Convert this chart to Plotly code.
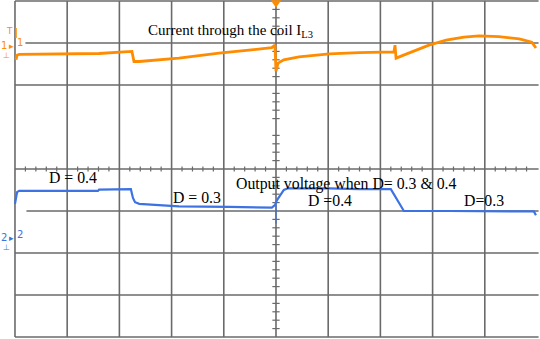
import plotly.graph_objects as go

# Oscilloscope screen: time and amplitude in divisions (center = 0)
# Channel 1: current through the coil IL3 (orange)
i_time = [-4.98, -4.96, -4.92, -4.16, -3.39, -2.91, -2.76, -2.72, -2.62, -1.86, -1.09,
          -0.52, -0.08, -0.02, 0.0, 0.04, 0.15, 0.44, 1.02, 1.59, 2.26, 2.28, 2.30,
          2.36, 2.64, 2.93, 3.26, 3.60, 3.89, 4.27, 4.66, 4.90, 4.98]
i_level = [2.60, 2.71, 2.73, 2.74, 2.75, 2.79, 2.80, 2.56, 2.56, 2.64, 2.76,
           2.83, 2.89, 2.95, 2.33, 2.52, 2.60, 2.67, 2.74, 2.77, 2.79, 2.95, 2.64,
           2.67, 2.81, 2.95, 3.07, 3.14, 3.17, 3.15, 3.10, 3.02, 2.88]

# Channel 2: output voltage (blue)
v_time = [-5.00, -4.98, -4.96, -4.92, -4.16, -3.41, -3.39, -2.78, -2.74, -2.70, -2.62,
          -2.24, -1.86, -0.90, -0.08, -0.02, 0.02, 0.15, 0.23, 1.02, 1.59, 2.20,
          2.45, 3.31, 4.27, 4.94, 4.98]
v_level = [-0.83, -0.64, -0.55, -0.52, -0.52, -0.52, -0.49, -0.48, -0.69, -0.79, -0.83,
           -0.86, -0.89, -0.90, -0.92, -0.86, -0.74, -0.50, -0.46, -0.46, -0.48, -0.48,
           -1.00, -1.00, -1.01, -1.01, -1.10]

ORANGE = "#ff8c00"
BLUE = "#3d72e3"
GRID = "#6a6a6a"
SERIF = "Liberation Serif, Times New Roman, serif"

fig = go.Figure()
fig.add_trace(go.Scatter(x=i_time, y=i_level, mode="lines",
                         line=dict(color=ORANGE, width=2.8), hoverinfo="skip"))
fig.add_trace(go.Scatter(x=v_time, y=v_level, mode="lines",
                         line=dict(color=BLUE, width=2.2), hoverinfo="skip"))

shapes = []
# vertical grid lines
for gx in range(-5, 5):
    shapes.append(dict(type="line", x0=gx, x1=gx, y0=-4, y1=4,
                       line=dict(color=GRID, width=1.6), layer="below"))
# horizontal grid lines (line at +1 div hidden on the screen)
for gy, start in [(4, -5), (3, -4.8), (2, -5), (0, -5), (-1, -4.78),
                  (-2, -5), (-3, -5), (-4, -5)]:
    shapes.append(dict(type="line", x0=start, x1=5.03, y0=gy, y1=gy,
                       line=dict(color=GRID, width=1.6), layer="below"))
# minor ticks on the center axes
for k in range(-25, 26):
    tx = k * 0.2
    if k % 5 != 0:
        shapes.append(dict(type="line", x0=tx, x1=tx, y0=-0.06, y1=0.06,
                           line=dict(color=GRID, width=1.2), layer="below"))
for k in range(-20, 21):
    ty = k * 0.2
    if k % 5 != 0:
        shapes.append(dict(type="line", x0=-0.07, x1=0.07, y0=ty, y1=ty,
                           line=dict(color=GRID, width=1.2), layer="below"))
# channel-1 marker bar
shapes.append(dict(type="line", x0=-4.98, x1=-4.98, y0=3.12, y1=3.36,
                   line=dict(color=ORANGE, width=1.5)))
# trigger position marker (top centre)
shapes.append(dict(type="path", path="M -0.1 4.02 L 0.1 4.02 L 0 3.84 Z",
                   fillcolor=ORANGE, line=dict(color=ORANGE, width=0)))
# small blue glitch at trigger point
shapes.append(dict(type="line", x0=0.0, x1=0.0, y0=-0.86, y1=-1.3,
                   line=dict(color=BLUE, width=1)))

annotations = []
def label(x, y, text, size=15.8, color="black", xanchor="left"):
    annotations.append(dict(x=x, y=y, text=text, showarrow=False, xanchor=xanchor,
                            yanchor="middle", font=dict(family=SERIF, size=size, color=color)))

label(-2.49, 3.29, "Current through the coil I<sub>L3</sub>", size=15)
label(-4.39, -0.20, "D = 0.4")
label(-2.01, -0.69, "D = 0.3")
label(-0.80, -0.36, "Output voltage when D= 0.3 &amp; 0.4")
label(0.57, -0.74, "D =0.4")
label(3.56, -0.76, "D=0.3")

SANS = "DejaVu Sans, Arial, sans-serif"
def mark(x, y, text, color, size=10):
    annotations.append(dict(x=x, y=y, text=text, showarrow=False, xanchor="center",
                            yanchor="middle", font=dict(family=SANS, size=size, color=color)))

mark(-5.10, 3.28, "T", ORANGE, 9)
mark(-5.21, 2.93, "1", ORANGE, 10)
mark(-5.06, 2.93, "▸", ORANGE, 9)
mark(-4.90, 3.02, "1", ORANGE, 10)
mark(-5.16, 2.70, "⊥", ORANGE, 8)
mark(-5.21, -1.64, "2", BLUE, 10)
mark(-5.06, -1.64, "▸", BLUE, 9)
mark(-4.90, -1.55, "2", BLUE, 10)
mark(-5.16, -1.88, "⊥", BLUE, 8)

fig.update_layout(
    width=540, height=339,
    margin=dict(l=0, r=0, t=0, b=0),
    paper_bgcolor="white", plot_bgcolor="white",
    showlegend=False,
    xaxis=dict(range=[-5.287, 5.0575], visible=False, fixedrange=True),
    yaxis=dict(range=[-4.048, 4.024], visible=False, fixedrange=True),
    shapes=shapes, annotations=annotations,
)

fig.write_html("out.html", config={"displayModeBar": False},
               post_script="document.body.style.margin='0';document.body.style.overflow='hidden';")
